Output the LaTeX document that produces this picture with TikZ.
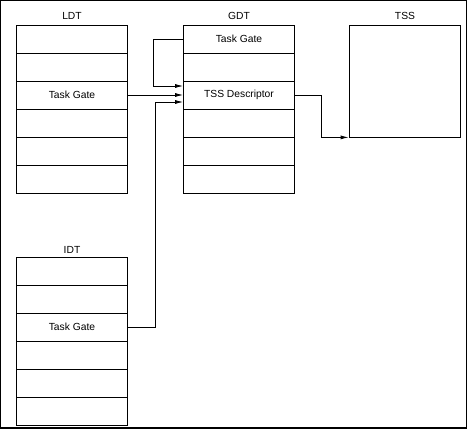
\documentclass[tikz,border=0pt]{standalone}
\usepackage{fontspec}
\setmainfont{Liberation Sans}
\usetikzlibrary{arrows.meta}
\tikzset{
  slot/.style={draw, line width=0.8pt, minimum width=111pt, minimum height=28pt, inner sep=0pt, font=\fontsize{10.3}{12}\selectfont},
  title/.style={font=\fontsize{10.3}{12}\selectfont},
  link/.style={-{Latex[length=8pt,width=4pt]}, line width=0.8pt}
}
\begin{document}
\begin{tikzpicture}[x=1pt,y=-1pt]
\useasboundingbox (0,0) rectangle (468,430);
\draw[line width=1pt] (0.5,0.5) rectangle (466.5,428);
\draw[line width=2pt] (0,428) -- (467,428);

% LDT
\node[title] (ldtlbl) at (72,16) {LDT};
\node[slot] (ldt1) at (72,39) {};
\node[slot] (ldt2) at (72,67) {};
\node[slot] (ldt3) at (72,95) {Task Gate};
\node[slot] (ldt4) at (72,123) {};
\node[slot] (ldt5) at (72,151) {};
\node[slot] (ldt6) at (72,179) {};
\draw[line width=1.6pt] (ldt4.south west) -- (ldt4.south east);

% GDT
\node[title] (gdtlbl) at (239,16) {GDT};
\node[slot] (gdt1) at (239,39) {Task Gate};
\node[slot] (gdt2) at (239,67) {};
\node[slot] (gdt3) at (239,95) {TSS Descriptor};
\node[slot] (gdt4) at (239,123) {};
\node[slot] (gdt5) at (239,151) {};
\node[slot] (gdt6) at (239,179) {};

% TSS
\node[title] (tsslbl) at (405,16) {TSS};
\node[slot, minimum height=112pt] (tss) at (404.5,81) {};

% IDT
\node[title] (idtlbl) at (72,250) {IDT};
\node[slot] (idt1) at (72,271) {};
\node[slot] (idt2) at (72,299) {};
\node[slot] (idt3) at (72,327) {Task Gate};
\node[slot] (idt4) at (72,355) {};
\node[slot] (idt5) at (72,383) {};
\node[slot] (idt6) at (72,411) {};

\draw[link] (gdt1.west) -- ++(-30,0) |- ([yshift=9pt]gdt3.west);
\draw[link] (ldt3.east) -- (gdt3.west);
\draw[link] (idt3.east) -- ++(27,0) |- ([yshift=-7pt]gdt3.west);
\draw[link] (gdt3.east) -- ++(26,0) |- (tss.south west);
\end{tikzpicture}
\end{document}
